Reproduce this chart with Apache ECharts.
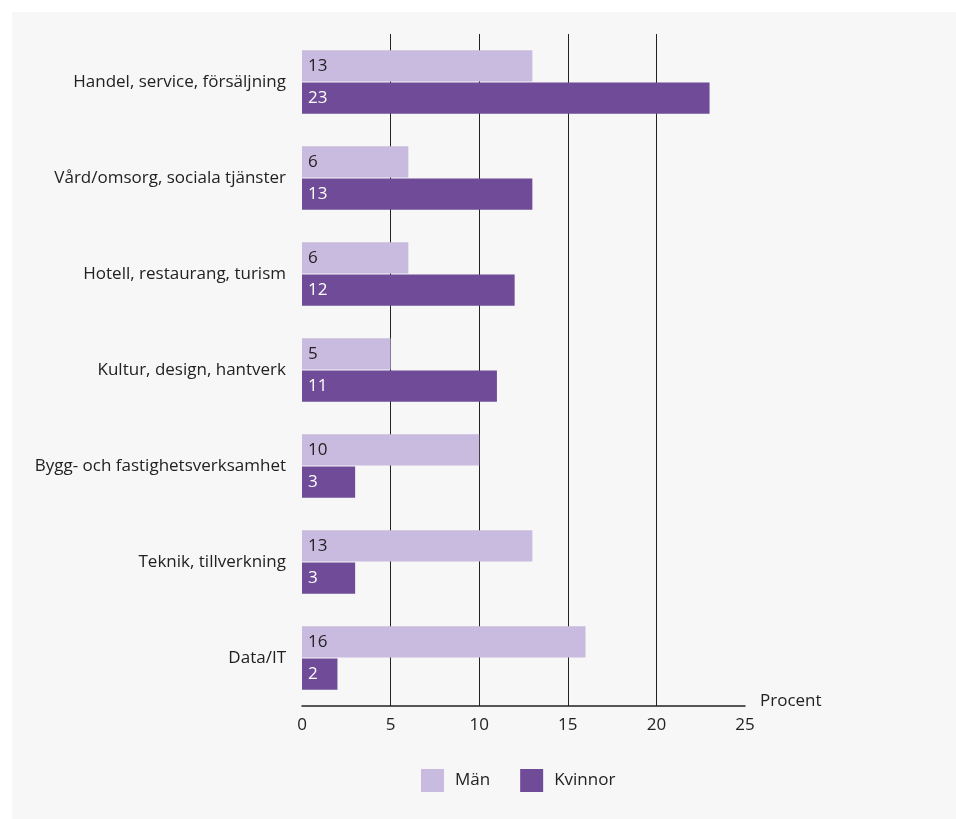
<!DOCTYPE html>
<html>
<head>
<meta charset="utf-8">
<script src="https://cdn.jsdelivr.net/npm/echarts@6/dist/echarts.min.js"></script>
<style>
html,body{margin:0;padding:0;background:#fff;}
#bg{position:absolute;left:12px;top:12px;right:0;bottom:0;background:#f7f7f7;}
#chart{position:absolute;left:0;top:0;width:956px;height:819px;}
</style>
</head>
<body>
<div id="bg"></div>
<div id="chart"></div>
<script>
const categories = ["Handel, service, försäljning","Vård/omsorg, sociala tjänster","Hotell, restaurang, turism","Kultur, design, hantverk","Bygg- och fastighetsverksamhet","Teknik, tillverkning","Data/IT"];
const man = [13,6,6,5,10,13,16];
const kvinnor = [23,13,12,11,3,3,2];
const seriesNames = ["Män","Kvinnor"];
const xTicks = [0,5,10,15,20,25];

const FONT = "Open Sans";
const chart = echarts.init(document.getElementById('chart'), null, {renderer:'canvas'});
chart.setOption({
  backgroundColor: 'transparent',
  animation: false,
  textStyle: {fontFamily: FONT},
  grid: {left: 302, right: 211, top: 34, bottom: 113, containLabel: false},
  legend: {
    left: 421, top: 769, padding: 0,
    itemWidth: 23, itemHeight: 23, itemGap: 30,
    icon: 'rect',
    textStyle: {fontFamily: FONT, fontSize: 17, color: '#222', padding: [6,0,0,6]},
    data: seriesNames
  },
  xAxis: {
    type: 'value', min: xTicks[0], max: xTicks[xTicks.length-1], interval: 5,
    name: 'Procent', nameLocation: 'end', nameGap: 15,
    nameTextStyle: {fontFamily: FONT, fontSize: 17, color: '#222', verticalAlign: 'bottom', lineHeight: 10},
    axisLine: {show: true, lineStyle: {color: '#222', width: 1.5}},
    axisTick: {show: false},
    axisLabel: {fontFamily: FONT, fontSize: 17, color: '#222', margin: 11},
    splitLine: {show: true, showMinLine: false, showMaxLine: false, lineStyle: {color: '#222', width: 1}}
  },
  yAxis: {
    type: 'category', data: categories, inverse: true,
    axisLine: {show: false}, axisTick: {show: false},
    axisLabel: {fontFamily: FONT, fontSize: 17, color: '#222', margin: 16}
  },
  series: [
    {
      name: seriesNames[0], type: 'bar', data: man,
      barGap: '3%', barCategoryGap: '34%',
      itemStyle: {color: '#c9badf'},
      label: {show: true, position: 'insideLeft', distance: 6, color: '#222', fontFamily: FONT, fontSize: 17}
    },
    {
      name: seriesNames[1], type: 'bar', data: kvinnor,
      barGap: '3%', barCategoryGap: '34%',
      itemStyle: {color: '#6f4b98'},
      label: {show: true, position: 'insideLeft', distance: 6, color: '#fff', fontFamily: FONT, fontSize: 17}
    }
  ]
});
</script>
</body>
</html>
